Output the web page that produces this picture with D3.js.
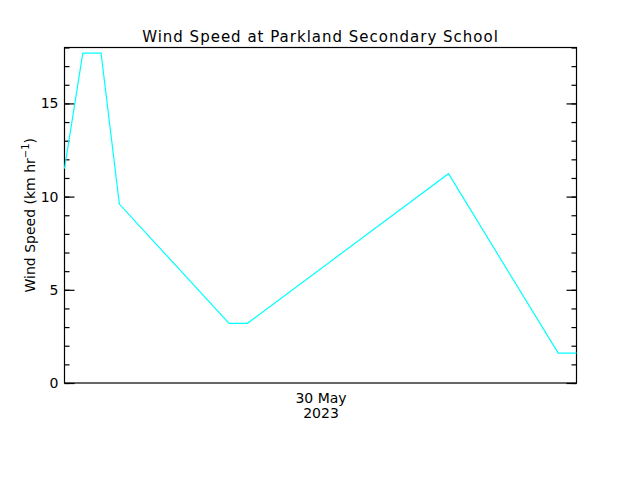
<!DOCTYPE html>
<html>
<head>
<meta charset="utf-8">
<script src="https://cdn.jsdelivr.net/npm/d3@7.9.0/dist/d3.min.js"></script>
<style>
  body { margin: 0; background: #fff; }
  svg { display: block; }
  text { font-family: "DejaVu Sans", sans-serif; fill: #000; }
</style>
</head>
<body>
<div id="chart"></div>
<script>
// hours after 29 May 2023 10:00 and wind speed in km/hr
const hours = [0, 1, 2, 3, 9, 10, 21, 27, 28];
const speeds = [11.5, 17.7, 17.7, 9.6, 3.2, 3.2, 11.23, 1.6, 1.6];
const yMajorTicks = [0, 5, 10, 15];
const yMinorTicks = d3.range(0, 19, 1);
const startTime = new Date(2023, 4, 29, 10, 0);
const endTime = new Date(2023, 4, 30, 14, 0);
const dateTicks = [new Date(2023, 4, 30, 0, 0)];

const width = 640;
const height = 480;
const margin = { top: 47.5, right: 63.5, bottom: 97, left: 64.5 };

const data = hours.map((h, i) => ({
  time: d3.timeHour.offset(startTime, h),
  speed: speeds[i],
}));

const svg = d3.select('#chart')
  .append('svg')
  .attr('width', width)
  .attr('height', height);

const xScale = d3.scaleTime()
  .domain([startTime, endTime])
  .range([margin.left, width - margin.right]);

const yScale = d3.scaleLinear()
  .domain([0, 18])
  .range([height - margin.bottom, margin.top]);

// frame
svg.append('rect')
  .attr('x', margin.left)
  .attr('y', margin.top)
  .attr('width', width - margin.left - margin.right)
  .attr('height', height - margin.top - margin.bottom)
  .attr('fill', 'none')
  .attr('stroke', '#000')
  .attr('stroke-width', 1.2);

// left axis, ticks point inwards
svg.append('g')
  .attr('transform', `translate(${margin.left}, 0)`)
  .call(d3.axisRight(yScale).tickValues(yMinorTicks).tickSize(5).tickFormat(''));
svg.append('g')
  .attr('transform', `translate(${margin.left}, 0)`)
  .call(d3.axisRight(yScale).tickValues(yMajorTicks).tickSize(10).tickFormat(''));

svg.append('g')
  .attr('transform', `translate(${margin.left}, 0)`)
  .call(d3.axisLeft(yScale).tickValues(yMajorTicks).tickSize(0).tickPadding(6).tickFormat(d3.format('d')))
  .call(g => g.selectAll('text').attr('font-size', 14).attr('font-family', '"DejaVu Sans", sans-serif'));

// right axis, ticks point inwards
svg.append('g')
  .attr('transform', `translate(${width - margin.right}, 0)`)
  .call(d3.axisLeft(yScale).tickValues(yMinorTicks).tickSize(5).tickFormat(''));
svg.append('g')
  .attr('transform', `translate(${width - margin.right}, 0)`)
  .call(d3.axisLeft(yScale).tickValues(yMajorTicks).tickSize(10).tickFormat(''));

svg.selectAll('.domain').remove();
svg.selectAll('.tick line').attr('stroke', '#000').attr('stroke-width', 1.2);

// date label under the x axis
const xAxis = svg.append('g')
  .attr('transform', `translate(0, ${height - margin.bottom})`)
  .call(d3.axisBottom(xScale).tickValues(dateTicks).tickSize(0).tickFormat(''));
xAxis.select('.domain').remove();
xAxis.selectAll('.tick').each(function (d) {
  const t = d3.select(this);
  t.append('text').attr('y', 20).attr('text-anchor', 'middle').attr('font-size', 14)
    .text(d3.timeFormat('%d %b')(d));
  t.append('text').attr('y', 35).attr('text-anchor', 'middle').attr('font-size', 14)
    .text(d3.timeFormat('%Y')(d));
});

// line
const line = d3.line()
  .x(d => xScale(d.time))
  .y(d => yScale(d.speed));

svg.append('path')
  .datum(data)
  .attr('d', line)
  .attr('fill', 'none')
  .attr('stroke', '#00ffff')
  .attr('stroke-width', 1.2);

// title
svg.append('text')
  .attr('x', (margin.left + width - margin.right) / 2)
  .attr('y', 42)
  .attr('text-anchor', 'middle')
  .attr('font-size', 15)
  .attr('letter-spacing', 1)
  .text('Wind Speed at Parkland Secondary School');

// y label
const yLabel = svg.append('text')
  .attr('transform', `translate(35, ${(margin.top + height - margin.bottom) / 2}) rotate(-90)`)
  .attr('text-anchor', 'middle')
  .attr('font-size', 14);
yLabel.append('tspan').text('Wind Speed (km hr');
yLabel.append('tspan').attr('dy', -6).attr('font-size', 10).text('−1');
yLabel.append('tspan').attr('dy', 6).text(')');
</script>
</body>
</html>
